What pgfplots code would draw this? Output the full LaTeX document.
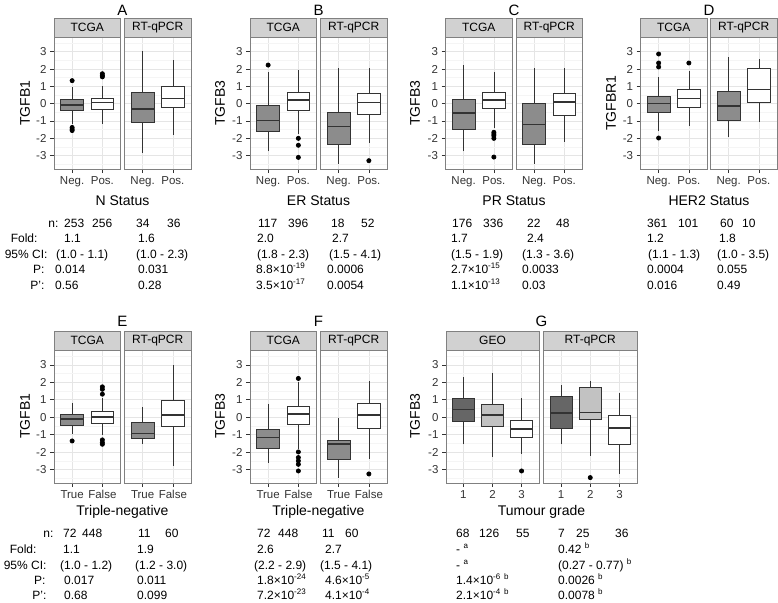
\documentclass[border=0pt]{standalone}
\usepackage{pgfplots}
\pgfplotsset{compat=1.18}
\usepgfplotslibrary{statistics}
\usepackage{fontspec}
\setmainfont{Liberation Sans}
\definecolor{g20}{gray}{0.2}
\definecolor{g50}{gray}{0.5}
\definecolor{g80}{gray}{0.82}
\definecolor{g90}{gray}{0.9}
\definecolor{g95}{gray}{0.96}
\definecolor{boxgray}{gray}{0.55}
\definecolor{dk}{gray}{0.4}
\definecolor{lt}{gray}{0.76}
\definecolor{txt}{gray}{0.2}
\newcommand\fs[1]{\fontsize{#1}{#1}\selectfont}
\pgfplotsset{
 panel/.style={
  scale only axis, height=132pt,
  ymin=-3.77, ymax=3.85, xmin=0.4, xmax=2.6,
  axis line style={draw=g50, line width=0.6pt},
  xtick={1,2},
  ytick={-3,-2,-1,0,1,2,3},
  yticklabels={-3,-2,-1,0,1,2,3},
  minor ytick={-3.5,-2.5,-1.5,-0.5,0.5,1.5,2.5,3.5},
  minor tick length=0pt,
  xmajorgrids, ymajorgrids, yminorgrids,
  major grid style={draw=g90, line width=0.6pt},
  minor grid style={draw=g95, line width=0.5pt},
  tick align=outside, tick pos=left,
  major tick length=4pt,
  tick style={draw=g20, line width=0.6pt},
  tick label style={font=\fs{11.5}, text=txt},
  boxplot/draw direction=y,
  boxplot/box extend=0.75,
  boxplot/whisker extend=0,
  boxplot/every median/.style={line width=1.6pt},
 },
 rpanel/.style={panel, ymajorticks=false},
 boxst/.style={draw=g20, line width=0.7pt, mark=*, mark size=2.1pt, mark options={draw=black, fill=black, solid}},
}
\newcommand{\bx}[8]{\addplot[boxst, fill=#2, boxplot prepared={draw position=#1, lower whisker=#3, lower quartile=#4, median=#5, upper quartile=#6, upper whisker=#7}] coordinates {#8};}
\newcommand{\strip}[5]{\filldraw[fill=g80,draw=g50,line width=0.6pt] (#1,#3) rectangle (#2,#4); \node[font=\fs{12},text=black] at ({(#1+#2)/2},{(#3+#4)/2}) {#5};}
\newcommand{\lab}[3]{\node[anchor=base east,font=\fs{12}] at (#1,#2) {#3};}
\newcommand{\val}[3]{\node[anchor=base west,font=\fs{12},inner xsep=0pt] at (#1,#2) {#3};}
\newcommand{\sci}[2]{#1×10\textsuperscript{-#2}}
\begin{document}
\begin{tikzpicture}[x=1pt,y=-1pt]
\path (0,0) rectangle (778,600);
% ================= TOP ROW =================
% ---- A ----
\begin{axis}[panel, at={(54pt,-37pt)}, anchor=north west, width=66.5pt, xticklabels={Neg.,Pos.}]
\bx{1}{boxgray}{-1.2}{-0.40}{-0.08}{0.27}{0.96}{(0,1.33) (0,-1.37) (0,-1.47) (0,-1.55)}
\bx{2}{white}{-1.2}{-0.31}{0.08}{0.33}{1.04}{(0,1.73) (0,1.63) (0,1.55)}
\end{axis}
\begin{axis}[rpanel, at={(124.5pt,-37pt)}, anchor=north west, width=66.5pt, xticklabels={Neg.,Pos.}]
\bx{1}{boxgray}{-2.85}{-1.08}{-0.31}{0.65}{3.02}{}
\bx{2}{white}{-1.79}{-0.21}{0.29}{1.0}{2.5}{}
\end{axis}
% ---- B ----
\begin{axis}[panel, at={(250pt,-37pt)}, anchor=north west, width=66.5pt, xticklabels={Neg.,Pos.}]
\bx{1}{boxgray}{-2.75}{-1.62}{-0.96}{-0.12}{1.81}{(0,2.23)}
\bx{2}{white}{-1.75}{-0.38}{0.23}{0.65}{1.96}{(0,-2.0) (0,-2.4) (0,-3.1)}
\end{axis}
\begin{axis}[rpanel, at={(320.5pt,-37pt)}, anchor=north west, width=66.5pt, xticklabels={Neg.,Pos.}]
\bx{1}{boxgray}{-3.5}{-2.33}{-1.31}{-0.5}{2.06}{}
\bx{2}{white}{-2.27}{-0.63}{0.08}{0.62}{2.06}{(0,-3.29)}
\end{axis}
% ---- C ----
\begin{axis}[panel, at={(445.5pt,-37pt)}, anchor=north west, width=66.5pt, xticklabels={Neg.,Pos.}]
\bx{1}{boxgray}{-2.75}{-1.46}{-0.54}{0.23}{2.21}{}
\bx{2}{white}{-1.4}{-0.29}{0.23}{0.67}{1.81}{(0,-1.65) (0,-1.75) (0,-1.85) (0,-2.0) (0,-3.08)}
\end{axis}
\begin{axis}[rpanel, at={(516pt,-37pt)}, anchor=north west, width=66.5pt, xticklabels={Neg.,Pos.}]
\bx{1}{boxgray}{-3.5}{-2.33}{-1.21}{0.04}{2.06}{}
\bx{2}{white}{-2.23}{-0.65}{0.1}{0.62}{2.06}{}
\end{axis}
% ---- D ----
\begin{axis}[panel, at={(640.5pt,-37pt)}, anchor=north west, width=66.5pt, xticklabels={Neg.,Pos.}]
\bx{1}{boxgray}{-1.6}{-0.5}{0.0}{0.42}{1.54}{(0,2.87) (0,2.35) (0,2.12) (0,-1.98)}
\bx{2}{white}{-1.27}{-0.19}{0.31}{0.81}{1.9}{(0,2.35)}
\end{axis}
\begin{axis}[rpanel, at={(710.5pt,-37pt)}, anchor=north west, width=66.5pt, xticklabels={Neg.,Pos.}]
\bx{1}{boxgray}{-1.92}{-0.96}{-0.15}{0.69}{2.69}{}
\bx{2}{white}{-1.06}{0.1}{0.81}{2.02}{2.6}{}
\end{axis}
% ================= BOTTOM ROW =================
% ---- E ----
\begin{axis}[panel, at={(54pt,-350pt)}, anchor=north west, width=66.5pt, height=133pt, xticklabels={True,False}]
\bx{1}{boxgray}{-0.95}{-0.44}{-0.1}{0.17}{0.84}{(0,-1.36)}
\bx{2}{white}{-1.0}{-0.34}{0.02}{0.33}{1.1}{(0,1.74) (0,1.6) (0,1.32) (0,-1.3) (0,-1.45) (0,-1.55)}
\end{axis}
\begin{axis}[rpanel, at={(124.5pt,-350pt)}, anchor=north west, width=66.5pt, height=133pt, xticklabels={True,False}]
\bx{1}{boxgray}{-1.51}{-1.2}{-0.94}{-0.27}{0.59}{}
\bx{2}{white}{-2.8}{-0.55}{0.13}{0.99}{3.0}{}
\end{axis}
% ---- F ----
\begin{axis}[panel, at={(250pt,-350pt)}, anchor=north west, width=66.5pt, height=133pt, xticklabels={True,False}]
\bx{1}{boxgray}{-2.6}{-1.78}{-1.17}{-0.71}{0.78}{}
\bx{2}{white}{-1.8}{-0.4}{0.19}{0.63}{2.0}{(0,2.22) (0,-1.99) (0,-2.31) (0,-2.5) (0,-2.7) (0,-3.08)}
\end{axis}
\begin{axis}[rpanel, at={(320.5pt,-350pt)}, anchor=north west, width=66.5pt, height=133pt, xticklabels={True,False}]
\bx{1}{boxgray}{-3.46}{-2.41}{-1.55}{-1.3}{-0.02}{}
\bx{2}{white}{-2.41}{-0.63}{0.13}{0.8}{2.08}{(0,-3.25)}
\end{axis}
% ---- G ----
\begin{axis}[panel, at={(446pt,-350pt)}, anchor=north west, width=93pt, height=133pt, xmax=3.6, xtick={1,2,3}, xticklabels={1,2,3}]
\bx{1}{dk}{-1.55}{-0.25}{0.44}{1.07}{2.28}{}
\bx{2}{lt}{-2.27}{-0.55}{0.11}{0.71}{2.56}{}
\bx{3}{white}{-2.08}{-1.17}{-0.67}{-0.17}{1.09}{(0,-3.08)}
\end{axis}
\begin{axis}[rpanel, at={(543.5pt,-350pt)}, anchor=north west, width=93.5pt, height=133pt, xmax=3.6, xtick={1,2,3}, xticklabels={1,2,3}]
\bx{1}{dk}{-1.55}{-0.61}{0.25}{1.17}{1.84}{}
\bx{2}{lt}{-2.22}{-0.11}{0.27}{1.7}{2.08}{(0,-3.46)}
\bx{3}{white}{-3.23}{-1.55}{-0.61}{0.11}{1.36}{}
\end{axis}
% ================= STRIPS =================
\strip{54}{120.5}{18}{37}{TCGA}\strip{124.5}{191}{18}{37}{RT-qPCR}
\strip{250}{316.5}{18}{37}{TCGA}\strip{320.5}{387}{18}{37}{RT-qPCR}
\strip{445.5}{512}{18}{37}{TCGA}\strip{516}{582.5}{18}{37}{RT-qPCR}
\strip{640.5}{707}{18}{37}{TCGA}\strip{710.5}{777}{18}{37}{RT-qPCR}
\strip{54}{120.5}{331}{350}{TCGA}\strip{124.5}{191}{331}{350}{RT-qPCR}
\strip{250}{316.5}{331}{350}{TCGA}\strip{320.5}{387}{331}{350}{RT-qPCR}
\strip{446}{539}{331}{350}{GEO}\strip{543.5}{637}{331}{350}{RT-qPCR}
% ================= TITLES & AXIS LABELS =================
\begin{scope}[font=\fs{15}]
\node[anchor=base] at (122.5,15) {A};
\node[anchor=base] at (318.5,15) {B};
\node[anchor=base] at (514,15) {C};
\node[anchor=base] at (709,15) {D};
\node[anchor=base] at (122.5,326) {E};
\node[anchor=base] at (318.5,326) {F};
\node[anchor=base] at (541.5,326) {G};
\end{scope}
\begin{scope}[font=\fs{14}]
\node[rotate=90] at (25,103) {TGFB1};
\node[rotate=90] at (220,103) {TGFB3};
\node[rotate=90] at (415,103) {TGFB3};
\node[rotate=90] at (611,103) {TGFBR1};
\node[rotate=90] at (25,416) {TGFB1};
\node[rotate=90] at (220,416) {TGFB3};
\node[rotate=90] at (415,416) {TGFB3};
\node[anchor=base] at (122.5,205) {N Status};
\node[anchor=base] at (318.5,205) {ER Status};
\node[anchor=base] at (514,205) {PR Status};
\node[anchor=base] at (709,205) {HER2 Status};
\node[anchor=base] at (122.5,515) {Triple-negative};
\node[anchor=base] at (318.5,515) {Triple-negative};
\node[anchor=base] at (541.5,515) {Tumour grade};
\end{scope}
% ================= TABLES TOP =================
\lab{62}{227}{n:}\lab{41}{242}{Fold:}\lab{51}{258}{95\% CI:}\lab{48}{273}{P:}\lab{48}{289}{P':}
% A
\val{64}{227}{253}\val{92}{227}{256}\val{136}{227}{34}\val{167}{227}{36}
\val{64}{242}{1.1}\val{138}{242}{1.6}
\val{56}{258}{(1.0 - 1.1)}\val{136}{258}{(1.0 - 2.3)}
\val{55}{273}{0.014}\val{138}{273}{0.031}
\val{55}{289}{0.56}\val{138}{289}{0.28}
% B
\val{258}{227}{117}\val{288}{227}{396}\val{331}{227}{18}\val{361}{227}{52}
\val{257}{242}{2.0}\val{332}{242}{2.7}
\val{257}{258}{(1.8 - 2.3)}\val{329}{258}{(1.5 - 4.1)}
\val{256}{273}{\sci{8.8}{19}}\val{327}{273}{0.0006}
\val{256}{289}{\sci{3.5}{17}}\val{327}{289}{0.0054}
% C
\val{452}{227}{176}\val{483}{227}{336}\val{527}{227}{22}\val{556}{227}{48}
\val{451}{242}{1.7}\val{527}{242}{2.4}
\val{451}{258}{(1.5 - 1.9)}\val{522}{258}{(1.3 - 3.6)}
\val{451}{273}{\sci{2.7}{15}}\val{522}{273}{0.0033}
\val{451}{289}{\sci{1.1}{13}}\val{522}{289}{0.03}
% D
\val{647}{227}{361}\val{678}{227}{101}\val{720}{227}{60}\val{742}{227}{10}
\val{647}{242}{1.2}\val{719}{242}{1.8}
\val{648}{258}{(1.1 - 1.3)}\val{717}{258}{(1.0 - 3.5)}
\val{647}{273}{0.0004}\val{717}{273}{0.055}
\val{647}{289}{0.016}\val{717}{289}{0.49}
% ================= TABLES BOTTOM =================
\lab{57}{537}{n:}\lab{40}{553}{Fold:}\lab{50}{569}{95\% CI:}\lab{49}{584}{P:}\lab{50}{599}{P':}
% E
\val{63}{537}{72}\val{82}{537}{448}\val{138}{537}{11}\val{165}{537}{60}
\val{63}{553}{1.1}\val{137}{553}{1.9}
\val{60}{569}{(1.0 - 1.2)}\val{135}{569}{(1.2 - 3.0)}
\val{64}{584}{0.017}\val{137}{584}{0.011}
\val{64}{599}{0.68}\val{137}{599}{0.099}
% F
\val{257}{537}{72}\val{278}{537}{448}\val{322}{537}{11}\val{345}{537}{60}
\val{257}{553}{2.6}\val{325}{553}{2.7}
\val{254}{569}{(2.2 - 2.9)}\val{320}{569}{(1.5 - 4.1)}
\val{257}{584}{\sci{1.8}{24}}\val{325}{584}{\sci{4.6}{5}}
\val{257}{599}{\sci{7.2}{23}}\val{325}{599}{\sci{4.1}{4}}
% G
\val{456}{537}{68}\val{479}{537}{126}\val{516}{537}{55}\val{558}{537}{7}\val{576}{537}{25}\val{615}{537}{36}
\val{456}{553}{- \textsuperscript{a}}\val{558}{553}{0.42 \textsuperscript{b}}
\val{456}{569}{- \textsuperscript{a}}\val{558}{569}{(0.27 - 0.77) \textsuperscript{b}}
\val{456}{584}{\sci{1.4}{6} \textsuperscript{b}}\val{558}{584}{0.0026 \textsuperscript{b}}
\val{456}{599}{\sci{2.1}{4} \textsuperscript{b}}\val{558}{599}{0.0078 \textsuperscript{b}}
\end{tikzpicture}
\end{document}
